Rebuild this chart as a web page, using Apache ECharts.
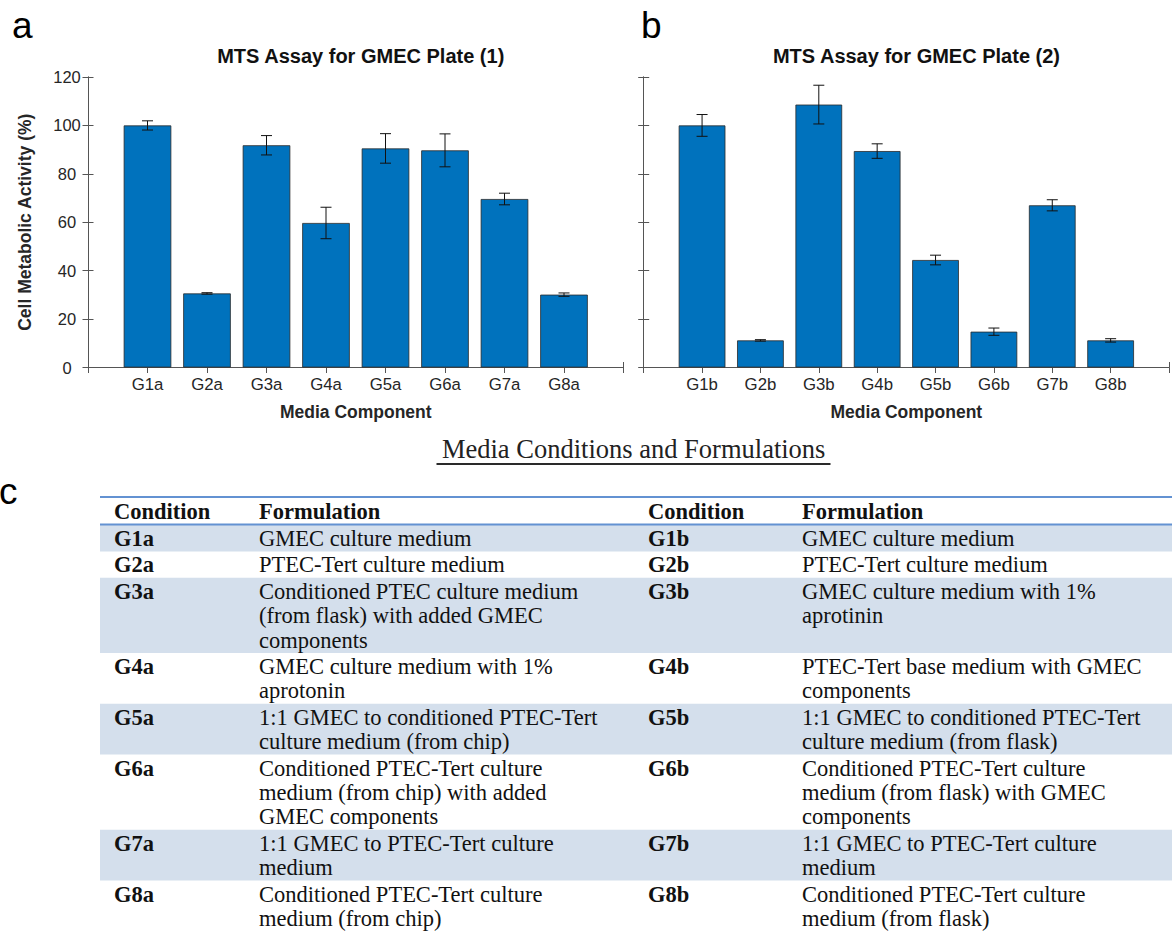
<!DOCTYPE html>
<html><head><meta charset="utf-8">
<script src="https://cdn.jsdelivr.net/npm/echarts@6/dist/echarts.min.js"></script>
<style>html,body{margin:0;padding:0;background:#fff;}#c{width:1172px;height:932px;}</style>
</head><body><div id="c"></div>
<script>
// ---------- data ----------
const categoriesA = ['G1a','G2a','G3a','G4a','G5a','G6a','G7a','G8a'];
const valuesA = [100, 30.6, 91.8, 59.7, 90.5, 89.7, 69.6, 30.1];
const errorsA = [1.9, 0.3, 4.0, 6.5, 6.1, 6.8, 2.4, 0.7];
const categoriesB = ['G1b','G2b','G3b','G4b','G5b','G6b','G7b','G8b'];
const valuesB = [100, 11.2, 108.6, 89.4, 44.4, 14.8, 67.0, 11.2];
const errorsB = [4.5, 0.3, 8.0, 3.0, 2.0, 1.5, 2.3, 0.7];
const yTicks = [0, 20, 40, 60, 80, 100, 120];
const titleA = 'MTS Assay for GMEC Plate (1)';
const titleB = 'MTS Assay for GMEC Plate (2)';
const xName = 'Media Component';
const yName = 'Cell Metabolic Activity (%)';
const tableTitle = 'Media Conditions and Formulations';
const tableHeader = ['Condition', 'Formulation', 'Condition', 'Formulation'];
const conditionsA = categoriesA;
const conditionsB = categoriesB;
const formulationsA = [
  ['GMEC culture medium'],
  ['PTEC-Tert culture medium'],
  ['Conditioned PTEC culture medium', '(from flask) with added GMEC', 'components'],
  ['GMEC culture medium with 1%', 'aprotonin'],
  ['1:1 GMEC to conditioned PTEC-Tert', 'culture medium (from chip)'],
  ['Conditioned PTEC-Tert culture', 'medium (from chip) with added', 'GMEC components'],
  ['1:1 GMEC to PTEC-Tert culture', 'medium'],
  ['Conditioned PTEC-Tert culture', 'medium (from chip)']
];
const formulationsB = [
  ['GMEC culture medium'],
  ['PTEC-Tert culture medium'],
  ['GMEC culture medium with 1%', 'aprotinin'],
  ['PTEC-Tert base medium with GMEC', 'components'],
  ['1:1 GMEC to conditioned PTEC-Tert', 'culture medium (from flask)'],
  ['Conditioned PTEC-Tert culture', 'medium (from flask) with GMEC', 'components'],
  ['1:1 GMEC to PTEC-Tert culture', 'medium'],
  ['Conditioned PTEC-Tert culture', 'medium (from flask)']
];

// ---------- layout / style ----------
const SANS = '"Liberation Sans", Arial, Helvetica, sans-serif';
const SERIF = '"Liberation Serif", "Times New Roman", serif';
const AX = '#555555';
const BAR = '#0072BD';
const gridTop = 77, gridH = 290.5, gridW = 535.5;
const gridLeftA = 88, gridLeftB = 643.7;

const chart = echarts.init(document.getElementById('c'), null, {renderer: 'svg'});

function xAxes(gridIndex, cats) {
  const base = {
    type: 'value', gridIndex, min: 0, max: 9, interval: 1,
    axisLine: {show: true, lineStyle: {color: AX, width: 1}},
    axisTick: {show: true, inside: true, length: 5.5, lineStyle: {color: AX}},
    splitLine: {show: false}
  };
  return [
    Object.assign({}, base, {
      position: 'bottom', name: xName, nameLocation: 'middle', nameGap: 35,
      nameTextStyle: {fontFamily: SANS, fontWeight: 'bold', fontSize: 17.5, color: '#262626'},
      axisLabel: {show: true, margin: 8, fontFamily: SANS, fontSize: 16.8, color: '#262626',
        formatter: v => cats[v - 1] || ''}
    }),
    Object.assign({}, base, {position: 'top', axisLabel: {show: false}})
  ];
}
function yAxes(gridIndex, showLabels) {
  const base = {
    type: 'value', gridIndex, min: yTicks[0], max: yTicks[yTicks.length - 1],
    interval: yTicks[1] - yTicks[0],
    axisLine: {show: true, lineStyle: {color: AX, width: 1}},
    axisTick: {show: true, inside: true, length: 5.5, lineStyle: {color: AX}},
    splitLine: {show: false}
  };
  const left = Object.assign({}, base, {
    position: 'left',
    axisLabel: {show: showLabels, align: 'center', margin: 21, fontFamily: SANS, fontSize: 16.5, color: '#262626'}
  });
  if (showLabels) {
    left.name = yName; left.nameLocation = 'middle'; left.nameGap = 54;
    left.nameTextStyle = {fontFamily: SANS, fontWeight: 'bold', fontSize: 17.5, color: '#262626'};
  }
  return [left, Object.assign({}, base, {position: 'right', axisLabel: {show: false}})];
}

function errorRender(params, api) {
  const x = api.value(0), lo = api.value(1), hi = api.value(2);
  const pHi = api.coord([x, hi]), pLo = api.coord([x, lo]);
  const cap = 5.5;
  const st = {stroke: '#111', lineWidth: 1};
  return {type: 'group', children: [
    {type: 'line', shape: {x1: pHi[0], y1: pHi[1], x2: pLo[0], y2: pLo[1]}, style: st},
    {type: 'line', shape: {x1: pHi[0] - cap, y1: pHi[1], x2: pHi[0] + cap, y2: pHi[1]}, style: st},
    {type: 'line', shape: {x1: pLo[0] - cap, y1: pLo[1], x2: pLo[0] + cap, y2: pLo[1]}, style: st}
  ]};
}

function barSeries(xi, yi, vals) {
  return {type: 'bar', xAxisIndex: xi, yAxisIndex: yi, barWidth: '80%',
    data: vals.map((v, i) => [i + 1, v]),
    itemStyle: {color: BAR, borderColor: '#2a2a2a', borderWidth: 0.8}, silent: true, z: 2};
}
function errSeries(xi, yi, vals, errs) {
  return {type: 'custom', xAxisIndex: xi, yAxisIndex: yi, renderItem: errorRender,
    data: vals.map((v, i) => [i + 1, v - errs[i], v + errs[i]]), silent: true, z: 5,
    encode: {x: 0, y: [1, 2]}};
}

// ---------- table graphics ----------
const g = [];
function txt(text, x, y, opts) {
  g.push(Object.assign({type: 'text', silent: true, style: Object.assign({
    text, x, y, fill: '#111', align: 'left', verticalAlign: 'middle',
    textAlign: 'left', textVerticalAlign: 'middle'}, opts)}));
}
// panel letters
txt('a', 12, 25, {font: '37px ' + SANS, fill: '#000'});
txt('b', 641, 25, {font: '37px ' + SANS, fill: '#000'});
txt('c', -1, 491, {font: '37px ' + SANS, fill: '#000'});
// table title
txt(tableTitle, 633.7, 449, {font: '26.5px ' + SERIF, fill: '#222', align: 'center', textAlign: 'center'});
g.push({type: 'line', silent: true, shape: {x1: 436.5, y1: 464, x2: 830.5, y2: 464}, style: {stroke: '#2a2a2a', lineWidth: 2}});

const tLeft = 100, tRight = 1172;
const colX = [114, 259, 648, 802];
const LINE = 24.4, PAD = 2, FIRST = 13.5;
const FONT = '22.5px ' + SERIF, FONTB = 'bold 22.5px ' + SERIF;
// rows
let y = 525;
const rows = [];
for (let i = 0; i < conditionsA.length; i++) {
  const n = Math.max(formulationsA[i].length, formulationsB[i].length);
  const h = n * LINE + PAD;
  rows.push({y, h});
  y += h;
}
rows.forEach((r, i) => {
  if (i % 2 === 0) g.push({type: 'rect', silent: true, z: -1, shape: {x: tLeft, y: r.y, width: tRight - tLeft, height: r.h}, style: {fill: '#d4dfec'}});
});
const lh = {lineHeight: 22};
rows.forEach((r, i) => {
  txt(conditionsA[i], colX[0], r.y + FIRST, Object.assign({font: FONTB}, lh));
  formulationsA[i].forEach((s, k) => txt(s, colX[1], r.y + FIRST + k * LINE, Object.assign({font: FONT}, lh)));
  txt(conditionsB[i], colX[2], r.y + FIRST, Object.assign({font: FONTB}, lh));
  formulationsB[i].forEach((s, k) => txt(s, colX[3], r.y + FIRST + k * LINE, Object.assign({font: FONT}, lh)));
});
// header
tableHeader.forEach((s, k) => txt(s, colX[k], 511, {font: FONTB}));
g.push({type: 'line', silent: true, shape: {x1: tLeft, y1: 497, x2: tRight, y2: 497}, style: {stroke: '#6392d2', lineWidth: 2}});
g.push({type: 'line', silent: true, shape: {x1: tLeft, y1: 524.5, x2: tRight, y2: 524.5}, style: {stroke: '#6392d2', lineWidth: 2}});

const option = {
  animation: false,
  backgroundColor: '#fff',
  title: [
    {text: titleA, left: gridLeftA + gridW / 2, top: 41, textAlign: 'center',
      textStyle: {fontFamily: SANS, fontWeight: 'bold', fontSize: 20, color: '#111'}},
    {text: titleB, left: gridLeftB + gridW / 2, top: 41, textAlign: 'center',
      textStyle: {fontFamily: SANS, fontWeight: 'bold', fontSize: 20, color: '#111'}}
  ],
  grid: [
    {left: gridLeftA, top: gridTop, width: gridW, height: gridH, containLabel: false},
    {left: gridLeftB, top: gridTop, width: gridW, height: gridH, containLabel: false}
  ],
  xAxis: [...xAxes(0, categoriesA), ...xAxes(1, categoriesB)],
  yAxis: [...yAxes(0, true), ...yAxes(1, false)],
  series: [
    barSeries(0, 0, valuesA), errSeries(0, 0, valuesA, errorsA),
    barSeries(2, 2, valuesB), errSeries(2, 2, valuesB, errorsB)
  ],
  graphic: {elements: g}
};
chart.setOption(option);
</script></body></html>
